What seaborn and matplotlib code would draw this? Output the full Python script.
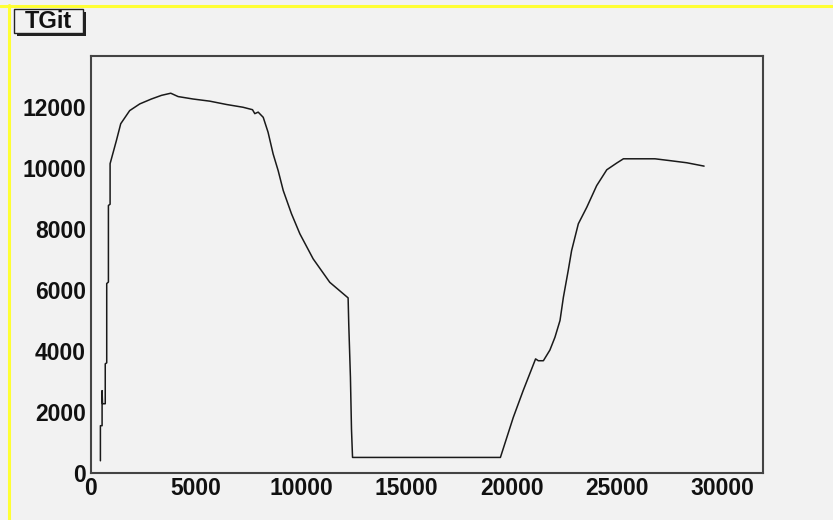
import numpy as np
import pandas as pd
import matplotlib
matplotlib.use('Agg')
import matplotlib.pyplot as plt
from matplotlib.patches import Rectangle
from matplotlib.lines import Line2D
from matplotlib.ticker import MultipleLocator
import seaborn as sns

# values
x_vals = [460, 460, 540, 540, 560, 690, 690, 760, 760, 840, 840, 920, 920,
          1220, 1425, 1850, 2330, 2880, 3360, 3800, 4150, 4860, 5650, 6450,
          7230, 7680, 7790, 7950, 8190, 8420, 8660, 8900, 9140, 9530, 9930,
          10560, 11350, 12220, 12250, 12330, 12380, 12430, 19450, 20060,
          20530, 21120, 21250, 21490, 21800, 22040, 22280, 22440, 22670,
          22830, 23150, 23550, 24020, 24500, 24970, 25290, 26790, 27500,
          28300, 29120]
y_vals = [390, 1540, 1540, 2690, 2260, 2260, 3570, 3600, 6200, 6250, 8760, 8800, 10130,
          10890, 11440, 11870, 12090, 12250, 12370, 12440, 12330, 12250, 12180, 12070,
          11980, 11900, 11770, 11820, 11650, 11160, 10450, 9900, 9250, 8490, 7830,
          7010, 6240, 5730, 4880, 3130, 1430, 500, 500, 1810,
          2690, 3730, 3670, 3670, 4020, 4440, 4990, 5750, 6630,
          7280, 8160, 8700, 9410, 9930, 10150, 10290, 10290, 10230,
          10160, 10050]
title = 'TGit'

df = pd.DataFrame({'x': x_vals, 'y': y_vals})

bg = '#f2f2f2'
sns.set_style('white', {'axes.facecolor': bg, 'figure.facecolor': bg})
plt.rcParams['font.family'] = ['Liberation Sans', 'DejaVu Sans']

fig = plt.figure(figsize=(8.33, 5.2), dpi=100)
ax = fig.add_axes([0.1089, 0.0910, 0.9163 - 0.1089, 0.8923 - 0.0910])
ax.set_facecolor(bg)

#the graph itself
sns.lineplot(data=df, x='x', y='y', sort=False, estimator=None,
             color='#1a1a1a', linewidth=1.1, ax=ax)

ax.set_xlim(0, 31930)
ax.set_ylim(0, 13660)
ax.set_xlabel('')
ax.set_ylabel('')

ax.xaxis.set_major_locator(MultipleLocator(5000))
ax.xaxis.set_minor_locator(MultipleLocator(1000))
ax.yaxis.set_major_locator(MultipleLocator(2000))
ax.yaxis.set_minor_locator(MultipleLocator(500))

ax.tick_params(axis='y', which='major', direction='in', length=15, width=1.2,
               color='#333333', pad=3.5, labelsize=16.5)
ax.tick_params(axis='y', which='minor', direction='in', length=7.2, width=1.2,
               color='#333333')
ax.tick_params(axis='x', which='major', direction='in', length=9, width=1.2,
               color='#333333', pad=3, labelsize=16.5)
ax.tick_params(axis='x', which='minor', direction='in', length=4.8, width=1.2,
               color='#333333')
ax.tick_params(top=False, right=False, which='both')
for lab in ax.get_xticklabels() + ax.get_yticklabels():
    lab.set_fontweight('bold')
    lab.set_color('#111111')

for side in ['top', 'right', 'bottom', 'left']:
    ax.spines[side].set_visible(True)
    ax.spines[side].set_color('#444444')
    ax.spines[side].set_linewidth(1.5)

#yellow edge on top and left
fig.add_artist(Line2D([0.0, 1.0], [1 - 6 / 520, 1 - 6 / 520], transform=fig.transFigure,
                      color='#ffff33', linewidth=2.2))
fig.add_artist(Line2D([8.5 / 833, 8.5 / 833], [0.0, 1 - 5 / 520], transform=fig.transFigure,
                      color='#ffff33', linewidth=2.2))

#title box with shadow
bx, by, bw, bh = 14.3 / 833, 1 - 33.3 / 520, 69 / 833, 24 / 520
fig.add_artist(Rectangle((bx + 3 / 833, by - 3 / 520), bw, bh, transform=fig.transFigure,
                         facecolor='#222222', edgecolor='none'))
fig.add_artist(Rectangle((bx, by), bw, bh, transform=fig.transFigure,
                         facecolor=bg, edgecolor='#222222', linewidth=1.0))
fig.text(bx + bw / 2, by + bh / 2, title, ha='center', va='center',
         fontsize=17, fontweight='bold', color='#111111')

fig.savefig('out.png', dpi=100, facecolor=bg)
